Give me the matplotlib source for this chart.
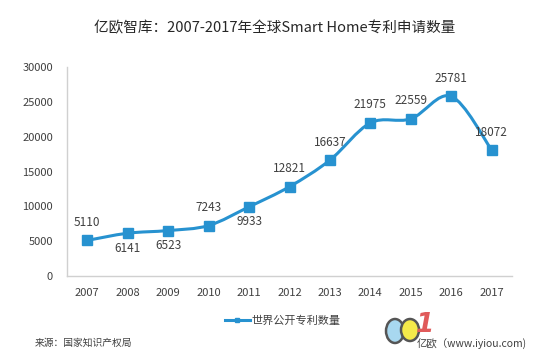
import numpy as np
import matplotlib
matplotlib.use('Agg')
import matplotlib.pyplot as plt
from matplotlib.path import Path
from matplotlib.patches import PathPatch, Ellipse
from matplotlib.lines import Line2D

plt.rcParams['font.family'] = ['Noto Sans CJK SC', 'DejaVu Sans']

years = ['2007', '2008', '2009', '2010', '2011', '2012', '2013', '2014', '2015', '2016', '2017']
patents = [5110, 6141, 6523, 7243, 9933, 12821, 16637, 21975, 22559, 25781, 18072]
# label above or below the marker
label_pos = ['up', 'down', 'down', 'up', 'down', 'up', 'up', 'up', 'up', 'up', 'up']

blue = '#2792d0'
grey = '#404040'

fig = plt.figure(figsize=(5.49, 3.57), dpi=100)
ax = fig.add_axes([67/549, 81/357, 445/549, 209/357])

x = np.arange(len(years))
y = np.array(patents, dtype=float)

# smoothed line like excel: catmull-rom -> bezier segments
verts = [(x[0], y[0])]
codes = [Path.MOVETO]
n = len(x)
for i in range(n - 1):
    p0 = (x[i - 1], y[i - 1]) if i > 0 else (x[i], y[i])
    p1 = (x[i], y[i])
    p2 = (x[i + 1], y[i + 1])
    p3 = (x[i + 2], y[i + 2]) if i + 2 < n else (x[i + 1], y[i + 1])
    c1 = (p1[0] + (p2[0] - p0[0]) / 6, p1[1] + (p2[1] - p0[1]) / 6)
    c2 = (p2[0] - (p3[0] - p1[0]) / 6, p2[1] - (p3[1] - p1[1]) / 6)
    verts += [c1, c2, p2]
    codes += [Path.CURVE4] * 3
ax.add_patch(PathPatch(Path(verts, codes), facecolor='none', edgecolor=blue, lw=2.2, zorder=2))
ax.plot(x, y, ls='none', marker='s', ms=6.5, color=blue, zorder=3)

for i in range(n):
    if label_pos[i] == 'up':
        dy = 18
    else:
        dy = -15
    ax.annotate(str(patents[i]), (x[i], y[i]), xytext=(0, dy), textcoords='offset pixels',
                ha='center', va='center', fontsize=8.5, color=grey)

ax.set_xlim(-0.5, n - 0.5)
ax.set_ylim(0, 30000)
ax.set_yticks(range(0, 30001, 5000))
ax.set_xticks(x)
ax.set_xticklabels(years)
ax.tick_params(length=0, labelsize=8, labelcolor=grey, pad=9)
ax.tick_params(axis='y', pad=10)
for s in ['top', 'right']:
    ax.spines[s].set_visible(False)
for s in ['left', 'bottom']:
    ax.spines[s].set_color('#d0d0d0')
    ax.spines[s].set_linewidth(1)

fig.text(0.5, 1 - 28/357, '亿欧智库：2007-2017年全球Smart Home专利申请数量', ha='center', va='center',
         fontsize=10.5, color='#262626')

h = Line2D([], [], color=blue, lw=2.2, marker='s', ms=3)
fig.legend([h], ['世界公开专利数量'], loc='center', bbox_to_anchor=(283/549, 1 - 321/357),
           frameon=False, fontsize=8, handlelength=2.2, handletextpad=0.2, labelcolor=grey)

fig.text(35/549, 1 - 343/357, '来源：国家知识产权局', ha='left', va='center', fontsize=7, color=grey)
fig.text(417/549, 1 - 344/357, '亿欧（www.iyiou.com)', ha='left', va='center', fontsize=7.5, color=grey)

# logo marks
fig.patches.append(Ellipse((395/549, 1 - 331/357), 18/549, 24/357, transform=fig.transFigure,
                           facecolor='#a8d8f0', edgecolor='#555555', lw=1.8))
fig.patches.append(Ellipse((410/549, 1 - 330/357), 18/549, 22/357, transform=fig.transFigure,
                           facecolor='#f5ea4a', edgecolor='#555555', lw=1.8))
fig.text(425/549, 1 - 325/357, '1', ha='center', va='center', fontsize=19, fontweight='bold',
         style='italic', color='#e05a5a', family='DejaVu Sans')

fig.savefig('out.png', dpi=100, facecolor='white')
